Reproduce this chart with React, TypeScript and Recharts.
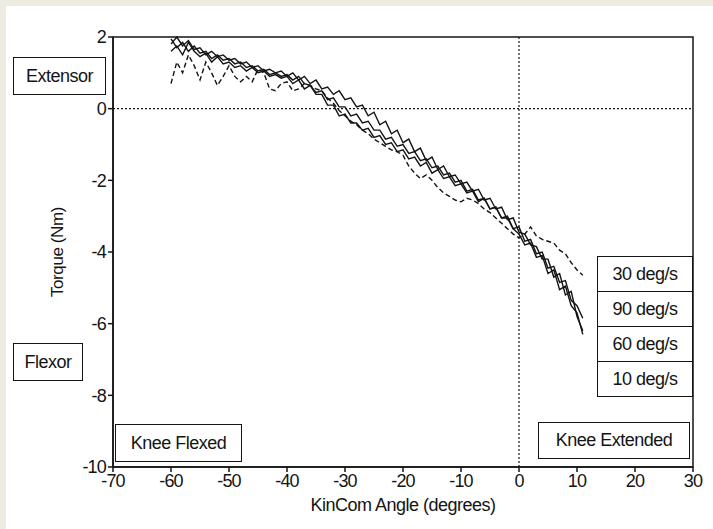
import {
    LineChart, Line, XAxis, YAxis, ReferenceLine, ReferenceArea
} from 'recharts';

const angles = [
    -60, -59, -58, -57, -56, -55, -54, -53, -52, -51, -50, -49, -48, -47, -46, -45, -44, -43, -42, -41,
    -40, -39, -38, -37, -36, -35, -34, -33, -32, -31, -30, -29, -28, -27, -26, -25, -24, -23, -22, -21,
    -20, -19, -18, -17, -16, -15, -14, -13, -12, -11, -10, -9, -8, -7, -6, -5, -4, -3, -2, -1,
    0, 1, 2, 3, 4, 5, 6, 7, 8, 9, 10, 11,
];

const torque10 = [
    1.95, 1.7, 1.85, 1.6, 1.75, 1.55, 1.6, 1.4, 1.5, 1.35, 1.4, 1.25, 1.3, 1.15, 1.2, 1.05, 1.1, 0.95, 1.0, 0.9,
    0.95, 0.8, 0.9, 0.7, 0.65, 0.4, 0.4, 0.1, 0.1, -0.2, -0.15, -0.4, -0.4, -0.6, -0.55, -0.8, -0.75, -1.0, -0.95, -1.2,
    -1.15, -1.4, -1.35, -1.6, -1.5, -1.8, -1.7, -1.95, -1.9, -2.15, -2.1, -2.35, -2.3, -2.6, -2.5, -2.8, -2.75, -3.05, -3.0, -3.35,
    -3.3, -3.7, -3.65, -4.05, -4.0, -4.45, -4.4, -4.85, -4.8, -5.35, -5.5, -5.85,
];

const torque60 = [
    1.8, 2.0, 1.75, 1.9, 1.65, 1.7, 1.5, 1.6, 1.45, 1.5, 1.35, 1.4, 1.25, 1.3, 1.15, 1.2, 1.05, 1.1, 1.0, 1.05,
    0.9, 1.0, 0.8, 0.9, 0.7, 0.8, 0.55, 0.6, 0.4, 0.5, 0.25, 0.3, 0.05, 0.1, -0.2, -0.1, -0.45, -0.35, -0.7, -0.6,
    -0.95, -0.85, -1.2, -1.1, -1.45, -1.35, -1.7, -1.6, -1.9, -1.85, -2.1, -2.05, -2.3, -2.25, -2.55, -2.5, -2.8, -2.75, -3.1, -3.05,
    -3.45, -3.5, -3.8, -3.85, -4.2, -4.2, -4.7, -4.6, -5.2, -5.1, -5.8, -6.2,
];

const torque90 = [
    1.6, 1.75, 1.5, 1.85, 1.6, 1.45, 1.55, 1.3, 1.45, 1.25, 1.3, 1.15, 1.2, 1.05, 1.15, 1.0, 1.05, 0.9, 0.95, 0.85,
    0.9, 0.7, 0.8, 0.55, 0.65, 0.45, 0.5, 0.25, 0.3, 0.05, 0.05, -0.2, -0.15, -0.4, -0.35, -0.6, -0.6, -0.85, -0.8, -1.05,
    -1.0, -1.25, -1.2, -1.45, -1.4, -1.65, -1.6, -1.85, -1.8, -2.05, -2.0, -2.3, -2.25, -2.55, -2.5, -2.8, -2.75, -3.05, -3.05, -3.35,
    -3.5, -3.8, -3.75, -4.15, -4.1, -4.6, -4.5, -5.05, -4.95, -5.5, -5.7, -6.3,
];

const torque30 = [
    0.7, 1.3, 1.0, 1.5, 1.2, 0.8, 1.3, 1.0, 0.65, 0.9, 1.2, 0.9, 0.75, 0.9, 0.75, 1.1, 1.0, 0.55, 0.5, 0.7,
    0.75, 0.5, 0.55, 0.7, 0.65, 0.55, 0.5, 0.3, 0.15, -0.05, -0.2, -0.35, -0.45, -0.6, -0.7, -0.85, -0.95, -1.05, -1.15, -1.2,
    -1.3, -1.6, -1.8, -1.95, -1.85, -2.0, -2.2, -2.35, -2.45, -2.55, -2.6, -2.5, -2.55, -2.65, -2.8, -2.9, -3.05, -3.2, -3.35, -3.5,
    -3.6, -3.5, -3.3, -3.55, -3.65, -3.7, -3.75, -3.95, -4.05, -4.3, -4.5, -4.65,
];

const xTicks = [-70, -60, -50, -40, -30, -20, -10, 0, 10, 20, 30];
const yTicks = [-10, -8, -6, -4, -2, 0, 2];
const legendNames = ['30 deg/s', '90 deg/s', '60 deg/s', '10 deg/s'];

const data = angles.map((a, i) => ({
    angle: a,
    s10: torque10[i],
    s30: torque30[i],
    s60: torque60[i],
    s90: torque90[i],
}));

const ink = '#141414';
const font = '"Liberation Sans", Arial, sans-serif';

const boxStyle = (left: number, top: number, width: number, height: number): React.CSSProperties => ({
    position: 'absolute', left, top, width, height, boxSizing: 'border-box',
    border: `1.5px solid ${ink}`, background: '#fff', color: ink,
    display: 'flex', alignItems: 'center', justifyContent: 'center',
    fontFamily: font, fontSize: 18, letterSpacing: -0.5,
});

export default function App() {
    return (
        <div style={{ position: 'absolute', left: 0, top: 0, width: 713, height: 529, background: '#eeebe2', overflow: 'hidden' }}>
            <div style={{ position: 'absolute', left: 6, top: 6, right: 0, bottom: 0, background: '#fff' }} />
            <div style={{ position: 'absolute', left: 0, top: 0 }}>
                <LineChart width={713} height={529} data={data}
                    margin={{ top: 37, right: 20, left: 10, bottom: 32 }}>
                    <XAxis dataKey="angle" type="number" domain={[-70, 30]} ticks={xTicks}
                        stroke={ink} strokeWidth={1.5} tickSize={5}
                        tick={{ fill: ink, fontSize: 18, fontFamily: font, letterSpacing: -0.8 }}
                        height={30}
                        label={{ value: 'KinCom Angle (degrees)', position: 'insideBottom', offset: -14, fill: ink, fontSize: 18, fontFamily: font, letterSpacing: -0.5 }} />
                    <YAxis type="number" domain={[-10, 2]} ticks={yTicks} width={103}
                        stroke={ink} strokeWidth={1.5} tickSize={5}
                        tick={{ fill: ink, fontSize: 18, fontFamily: font, letterSpacing: -0.8 }}
                        label={{ value: 'Torque (Nm)', angle: -90, position: 'insideLeft', offset: 47, fill: ink, fontSize: 17, fontFamily: font, letterSpacing: -0.4, style: { textAnchor: 'middle' } }} />
                    <ReferenceArea x1={-70} x2={30} y1={-10} y2={2} fill="none" stroke={ink} strokeWidth={1.5} />
                    <ReferenceLine y={0} stroke={ink} strokeDasharray="2 2" strokeWidth={1.2} />
                    <ReferenceLine x={0} stroke={ink} strokeDasharray="2 2" strokeWidth={1.2} />
                    <Line type="linear" dataKey="s30" stroke={ink} strokeWidth={1.4} strokeDasharray="5 3" dot={false} isAnimationActive={false} />
                    <Line type="linear" dataKey="s90" stroke={ink} strokeWidth={1.4} dot={false} isAnimationActive={false} />
                    <Line type="linear" dataKey="s60" stroke={ink} strokeWidth={1.4} dot={false} isAnimationActive={false} />
                    <Line type="linear" dataKey="s10" stroke={ink} strokeWidth={1.4} dot={false} isAnimationActive={false} />
                </LineChart>
            </div>
            <div style={boxStyle(13, 57, 93, 38)}>Extensor</div>
            <div style={boxStyle(13, 343, 70, 38)}>Flexor</div>
            <div style={boxStyle(115, 424, 127, 38)}>Knee Flexed</div>
            <div style={boxStyle(538, 422, 152, 37)}>Knee Extended</div>
            {legendNames.map((n, i) => (
                <div key={n} style={boxStyle(597, 256 + i * 35, 96, 36)}>{n}</div>
            ))}
        </div>
    );
}
